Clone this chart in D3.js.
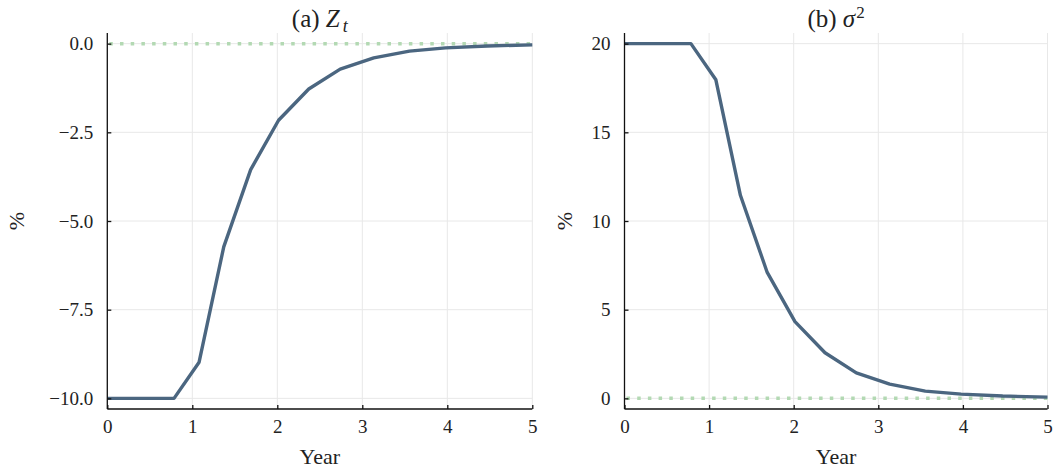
<!DOCTYPE html>
<html>
<head>
<meta charset="utf-8">
<script src="https://cdn.jsdelivr.net/npm/d3@7"></script>
<style>
  body { margin: 0; background: #fff; }
  text { font-family: "Liberation Serif", "DejaVu Serif", serif; fill: #222; }
</style>
</head>
<body>
<div id="viz-container"></div>
<script>
// time grid (years)
let years = [0, 0.785, 1.08, 1.37, 1.687, 2.015, 2.37, 2.74, 3.135, 3.555, 3.98, 4.47, 5.0];
// panel (a) Z_t, %
let zValues = [-10, -10, -8.98, -5.73, -3.55, -2.16, -1.28, -0.72, -0.40, -0.21, -0.12, -0.065, -0.035];
// panel (b) sigma^2, %
let sigmaValues = [20, 20, 17.96, 11.45, 7.1, 4.33, 2.57, 1.44, 0.80, 0.41, 0.24, 0.13, 0.07];
let xTicks = [0, 1, 2, 3, 4, 5];
let zTicks = [0, -2.5, -5, -7.5, -10];
let sigmaTicks = [0, 5, 10, 15, 20];

let viz = d3.select("#viz-container")
  .append("svg")
  .attr("width", 1053)
  .attr("height", 472)
;

let lineColor = "#4b6680";
let zeroColor = "#b3d9b3";
let gridColor = "#e8e8e8";

function panel(left, right, yDomain, yTicks, yFmt, values, labelOffset, title) {
  let top = 33, bottom = 409;
  let x = d3.scaleLinear().domain([0, 5]).range([left, right]);
  let y = d3.scaleLinear().domain(yDomain).range([bottom, top]);
  let g = viz.append("g");

  // grid
  g.selectAll(".vg").data(xTicks).enter().append("line")
    .attr("x1", d => x(d)).attr("x2", d => x(d))
    .attr("y1", top).attr("y2", bottom)
    .attr("stroke", gridColor).attr("stroke-width", 1);
  g.selectAll(".hg").data(yTicks).enter().append("line")
    .attr("x1", left).attr("x2", right)
    .attr("y1", d => y(d)).attr("y2", d => y(d))
    .attr("stroke", gridColor).attr("stroke-width", 1);

  // zero reference
  g.append("line")
    .attr("x1", left + 2).attr("x2", right)
    .attr("y1", y(0)).attr("y2", y(0))
    .attr("stroke", zeroColor).attr("stroke-width", 3.5)
    .attr("stroke-dasharray", "3.5,7.2");

  // series
  let line = d3.line().x((d, i) => x(years[i])).y(d => y(d));
  g.append("path").datum(values)
    .attr("d", line)
    .attr("fill", "none")
    .attr("stroke", lineColor)
    .attr("stroke-width", 3.4)
    .attr("stroke-linejoin", "round");

  // axes
  let xAxis = d3.axisBottom(x).tickValues(xTicks).tickSize(-4).tickPadding(11).tickFormat(d3.format("d"));
  let gx = g.append("g").attr("transform", "translate(0," + bottom + ")").call(xAxis);
  let yAxis = d3.axisLeft(y).tickValues(yTicks).tickSize(-4).tickPadding(14).tickFormat(yFmt);
  let gy = g.append("g").attr("transform", "translate(" + left + ",0)").call(yAxis);
  [gx, gy].forEach(a => {
    a.attr("font-family", null).attr("font-size", null);
    a.select(".domain").attr("stroke", "#111").attr("stroke-width", 1.3)
      .attr("d", a === gx ? "M" + left + ",0H" + right : "M0," + top + "V" + bottom);
    a.selectAll(".tick line").attr("stroke", "#111").attr("stroke-width", 1.3);
    a.selectAll(".tick text").attr("font-size", 19).attr("fill", "#222");
  });

  // labels
  let cx = (left + right) / 2;
  g.append("text").attr("x", cx).attr("y", 464).attr("text-anchor", "middle")
    .attr("font-size", 22).text("Year");
  g.append("text")
    .attr("transform", "translate(" + (left - labelOffset) + "," + ((top + bottom) / 2) + ") rotate(-90)")
    .attr("text-anchor", "middle").attr("font-size", 22).text("%");
  let t = g.append("text").attr("x", cx).attr("y", 27).attr("text-anchor", "middle").attr("font-size", 25);
  title(t);
}

let minus = s => s.replace("-", "\u2212");

panel(107.3, 532.3, [-10.3, 0.3], zTicks, d => minus(d3.format(".1f")(d)), zValues, 83, t => {
  t.append("tspan").text("(a) ");
  t.append("tspan").attr("font-style", "italic").text("Z");
  t.append("tspan").attr("font-style", "italic").attr("font-size", 18).attr("dy", 5).attr("dx", 3).text("t");
});

panel(624.5, 1047.5, [-0.6, 20.6], sigmaTicks, d => d3.format("d")(d), sigmaValues, 53, t => {
  t.append("tspan").text("(b) ");
  t.append("tspan").attr("font-style", "italic").text("\u03c3");
  t.append("tspan").attr("font-size", 17).attr("dy", -9).attr("dx", 1).text("2");
});
</script>
</body>
</html>
